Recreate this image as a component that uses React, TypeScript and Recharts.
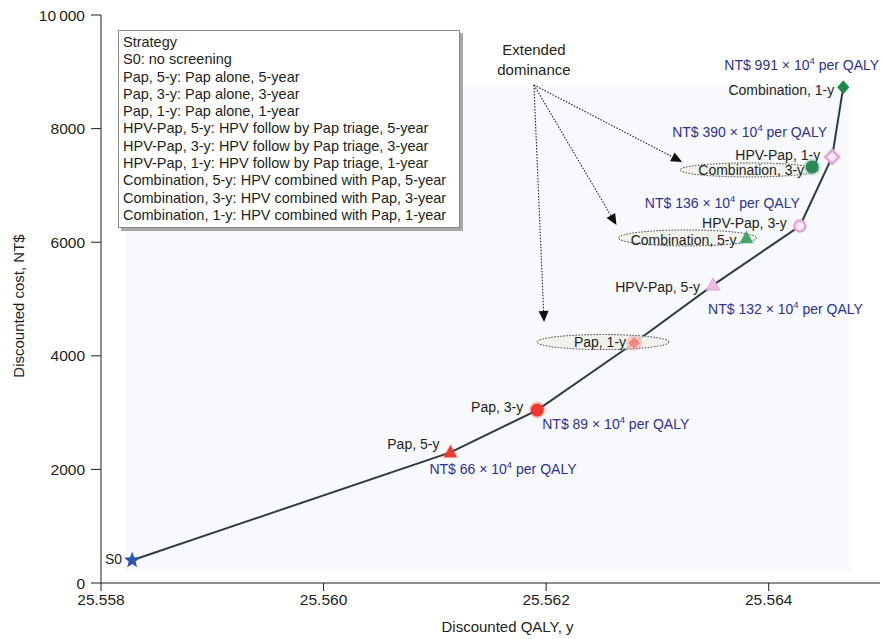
import {
  ComposedChart,
  Line,
  ReferenceArea,
  ReferenceDot,
  ReferenceLine,
  Scatter,
  XAxis,
  YAxis
} from "recharts";

// strategies, discounted QALY (y) and discounted cost (NT$)
const strategies = [
  "S0",
  "Pap, 5-y",
  "Pap, 3-y",
  "Pap, 1-y",
  "HPV-Pap, 5-y",
  "HPV-Pap, 3-y",
  "HPV-Pap, 1-y",
  "Combination, 5-y",
  "Combination, 3-y",
  "Combination, 1-y"
];
const qaly = [25.55828, 25.56114, 25.56192, 25.56279, 25.5635, 25.56428, 25.56457, 25.5638, 25.56439, 25.56467];
const cost = [400, 2300, 3045, 4225, 5245, 6285, 7500, 6075, 7325, 8730];
// ICER, NT$ x 10^4 per QALY (null = not reported)
const icer = [null, 66, 89, null, 132, 136, 390, null, null, 991];

const curveStrategies = [
  "S0",
  "Pap, 5-y",
  "Pap, 3-y",
  "Pap, 1-y",
  "HPV-Pap, 5-y",
  "HPV-Pap, 3-y",
  "HPV-Pap, 1-y",
  "Combination, 1-y"
];
const dominatedStrategies = ["Pap, 1-y", "Combination, 5-y", "Combination, 3-y"];

const xTicks = [25.558, 25.56, 25.562, 25.564];
const yTicks = [0, 2000, 4000, 6000, 8000, 10000];

const legendLines = [
  "Strategy",
  "S0: no screening",
  "Pap, 5-y: Pap alone, 5-year",
  "Pap, 3-y: Pap alone, 3-year",
  "Pap, 1-y: Pap alone, 1-year",
  "HPV-Pap, 5-y: HPV follow by Pap triage, 5-year",
  "HPV-Pap, 3-y: HPV follow by Pap triage, 3-year",
  "HPV-Pap, 1-y: HPV follow by Pap triage, 1-year",
  "Combination, 5-y: HPV combined with Pap, 5-year",
  "Combination, 3-y: HPV combined with Pap, 3-year",
  "Combination, 1-y: HPV combined with Pap, 1-year"
];
const noteLines = ["Extended", "dominance"];
const noteAnchor = { qaly: 25.56189, cost: 8768 };

const rows = strategies.map((name, i) => ({ name, qaly: qaly[i], cost: cost[i], icer: icer[i] }));
const curveRows = rows.filter((r) => curveStrategies.includes(r.name));
const dominatedRows = rows.filter((r) => dominatedStrategies.includes(r.name));

const FONT = '"Liberation Sans", Arial, Helvetica, sans-serif';
const INK = "#231f20";
const BLUE = "#2e3192";

const MARKS: Record<string, { kind: string; fill: string; stroke?: string }> = {
  S0: { kind: "star", fill: "#2c55a6" },
  "Pap, 5-y": { kind: "triangle", fill: "#ec3a2d" },
  "Pap, 3-y": { kind: "circle", fill: "#ec3a2d" },
  "Pap, 1-y": { kind: "blob", fill: "#f07a72" },
  "HPV-Pap, 5-y": { kind: "triangle", fill: "#ecbde3", stroke: "#e0a6d6" },
  "HPV-Pap, 3-y": { kind: "ring", fill: "#f8e6f3", stroke: "#e3a5d7" },
  "HPV-Pap, 1-y": { kind: "diamond-ring", fill: "#f8e6f3", stroke: "#e3a5d7" },
  "Combination, 5-y": { kind: "triangle", fill: "#45a468" },
  "Combination, 3-y": { kind: "circle", fill: "#2a8a55" },
  "Combination, 1-y": { kind: "diamond", fill: "#1d8746" }
};

// [dx to text end, dy to text middle]
const NAME_OFFSET: Record<string, [number, number]> = {
  S0: [-10, -1],
  "Pap, 5-y": [-11, -8],
  "Pap, 3-y": [-14, -3],
  "Pap, 1-y": [-8, -1],
  "HPV-Pap, 5-y": [-13, 2],
  "HPV-Pap, 3-y": [-13, -3],
  "HPV-Pap, 1-y": [-12, -2],
  "Combination, 5-y": [-10, 2],
  "Combination, 3-y": [-8, 3],
  "Combination, 1-y": [-9, 3]
};
// [dx to text start, dy to text middle]
const ICER_OFFSET: Record<string, [number, number]> = {
  "Pap, 5-y": [-21, 17],
  "Pap, 3-y": [5, 14],
  "HPV-Pap, 5-y": [-5, 24],
  "HPV-Pap, 3-y": [-155, -23],
  "HPV-Pap, 1-y": [-160, -25],
  "Combination, 1-y": [-119, -22]
};
const ELLIPSE: Record<string, { dx: number; dy: number; rx: number; ry: number; tip: [number, number] }> = {
  "Pap, 1-y": { dx: -31, dy: -1, rx: 66, ry: 7.5, tip: [-90, -21] },
  "Combination, 5-y": { dx: -59, dy: 0, rx: 69, ry: 8, tip: [-130, -13] },
  "Combination, 3-y": { dx: -63, dy: 3, rx: 69, ry: 7, tip: [-130, -5] }
};

function Mark({ cx, cy, name }: { cx: number; cy: number; name: string }) {
  const m = MARKS[name];
  if (!m) return null;
  if (m.kind === "star") {
    const pts: string[] = [];
    for (let k = 0; k < 10; k++) {
      const r = k % 2 === 0 ? 8.5 : 3.6;
      const a = -Math.PI / 2 + (k * Math.PI) / 5;
      pts.push(`${cx + r * Math.cos(a)},${cy + r * Math.sin(a)}`);
    }
    return <polygon points={pts.join(" ")} fill={m.fill} />;
  }
  if (m.kind === "triangle") {
    return (
      <g>
        <polygon points={`${cx},${cy - 9} ${cx - 8.5},${cy + 6} ${cx + 8.5},${cy + 6}`} fill={m.fill} opacity={0.25} />
        <polygon points={`${cx},${cy - 7} ${cx - 6.5},${cy + 5} ${cx + 6.5},${cy + 5}`} fill={m.fill} stroke={m.stroke} />
      </g>
    );
  }
  if (m.kind === "circle") {
    return (
      <g>
        <circle cx={cx} cy={cy} r={8.5} fill={m.fill} opacity={0.25} />
        <circle cx={cx} cy={cy} r={6.5} fill={m.fill} />
      </g>
    );
  }
  if (m.kind === "blob") {
    return (
      <g>
        <circle cx={cx} cy={cy} r={8} fill={m.fill} opacity={0.3} />
        <polygon points={`${cx},${cy - 6} ${cx + 6},${cy} ${cx},${cy + 6} ${cx - 6},${cy}`} fill={m.fill} opacity={0.8} />
      </g>
    );
  }
  if (m.kind === "ring") {
    return <circle cx={cx} cy={cy} r={5.5} fill={m.fill} stroke={m.stroke} strokeWidth={2.5} />;
  }
  if (m.kind === "diamond-ring") {
    return (
      <polygon
        points={`${cx},${cy - 7} ${cx + 7},${cy} ${cx},${cy + 7} ${cx - 7},${cy}`}
        fill={m.fill}
        stroke={m.stroke}
        strokeWidth={2.5}
      />
    );
  }
  return <polygon points={`${cx},${cy - 7} ${cx + 6},${cy} ${cx},${cy + 7} ${cx - 6},${cy}`} fill={m.fill} />;
}

function StrategyPoint(props: any) {
  const { cx, cy, payload } = props;
  const name = payload.name as string;
  const [nx, ny] = NAME_OFFSET[name] || [-10, 0];
  const io = ICER_OFFSET[name];
  return (
    <g>
      <text x={cx + nx} y={cy + ny} dy="0.35em" textAnchor="end" fontSize={14} fontFamily={FONT} fill={INK}>
        {name}
      </text>
      <Mark cx={cx} cy={cy} name={name} />
      {io && payload.icer != null && (
        <text x={cx + io[0]} y={cy + io[1]} dy="0.35em" fontSize={14} fontFamily={FONT} fill={BLUE}>
          {`NT$ ${payload.icer} \u00d7 10`}
          <tspan dy={-6} fontSize={9.5}>4</tspan>
          <tspan dy={6}>{" per QALY"}</tspan>
        </text>
      )}
    </g>
  );
}

function DominanceEllipse(props: any) {
  const { cx, cy, payload } = props;
  const e = ELLIPSE[payload.name];
  if (!e) return null;
  return (
    <ellipse
      cx={cx + e.dx}
      cy={cy + e.dy}
      rx={e.rx}
      ry={e.ry}
      fill="#f1f1ea"
      fillOpacity={0.85}
      stroke="#333"
      strokeWidth={1}
      strokeDasharray="1.5 1.5"
    />
  );
}

function makeArrow(tip: [number, number]) {
  return function Arrow(props: any) {
    const { x1, y1, x2, y2 } = props;
    const tx = x2 + tip[0];
    const ty = y2 + tip[1];
    const len = Math.hypot(tx - x1, ty - y1);
    const ux = (tx - x1) / len;
    const uy = (ty - y1) / len;
    const bx = tx - ux * 11;
    const by = ty - uy * 11;
    const px = -uy * 5;
    const py = ux * 5;
    return (
      <g>
        <line x1={x1} y1={y1} x2={bx} y2={by} stroke="#222" strokeWidth={1.1} strokeDasharray="1.5 1.5" />
        <polygon points={`${tx},${ty} ${bx + px},${by + py} ${bx - px},${by - py}`} fill="#111" />
      </g>
    );
  };
}

function NoteText(props: any) {
  const { cx, cy } = props;
  return (
    <text textAnchor="middle" fontSize={15} fontFamily={FONT} fill={INK}>
      {noteLines.map((line, i) => (
        <tspan key={line} x={cx} y={cy - 35 + i * 20} dy="0.35em">
          {line}
        </tspan>
      ))}
    </text>
  );
}

function YTitle(props: any) {
  const { viewBox } = props;
  const x = viewBox.x + 19;
  const y = viewBox.y + viewBox.height / 2 + 7;
  return (
    <text x={x} y={y} transform={`rotate(-90, ${x}, ${y})`} textAnchor="middle" dy="0.35em" fontSize={15} fontFamily={FONT} fill={INK}>
      Discounted cost, NT$
    </text>
  );
}

function XTitle(props: any) {
  const { viewBox } = props;
  return (
    <text x={viewBox.x + viewBox.width / 2 + 17} y={627} textAnchor="middle" dy="0.35em" fontSize={15} fontFamily={FONT} fill={INK}>
      Discounted QALY, y
    </text>
  );
}

export default function App() {
  const tick = { fontSize: 15.5, fontFamily: FONT, fill: INK };
  return (
    <div style={{ position: "absolute", left: 0, top: 0, width: 883, height: 639, background: "#fff" }}>
      <ComposedChart width={883} height={639} margin={{ top: 15, right: 3, bottom: 0, left: 0 }}>
        <XAxis
          type="number"
          dataKey="qaly"
          domain={[25.558, 25.565]}
          ticks={xTicks}
          allowDataOverflow
          tickFormatter={(v: number) => v.toFixed(3)}
          tick={tick}
          tickSize={8}
          tickMargin={3}
          height={56}
          axisLine={{ stroke: INK }}
          tickLine={{ stroke: INK }}
          label={<XTitle />}
        />
        <YAxis
          type="number"
          dataKey="cost"
          domain={[0, 10000]}
          ticks={yTicks}
          allowDataOverflow
          tickFormatter={(v: number) => (v === 10000 ? "10\u2009000" : String(v))}
          tick={tick}
          tickSize={10}
          tickMargin={6}
          width={101}
          axisLine={{ stroke: INK }}
          tickLine={{ stroke: INK }}
          label={<YTitle />}
        />
        <ReferenceArea x1={25.55822} x2={25.56475} y1={194} y2={8768} fill="#f8f9fd" fillOpacity={1} ifOverflow="visible" />
        <Scatter data={dominatedRows} shape={DominanceEllipse} isAnimationActive={false} />
        {dominatedRows.map((r) => (
          <ReferenceLine
            key={r.name}
            segment={[
              { x: noteAnchor.qaly, y: noteAnchor.cost },
              { x: r.qaly, y: r.cost }
            ]}
            ifOverflow="visible"
            shape={makeArrow(ELLIPSE[r.name].tip)}
          />
        ))}
        <ReferenceDot x={noteAnchor.qaly} y={noteAnchor.cost} ifOverflow="visible" shape={NoteText} />
        <Line
          data={curveRows}
          dataKey="cost"
          type="linear"
          stroke="#2e3d3f"
          strokeWidth={2}
          dot={false}
          activeDot={false}
          isAnimationActive={false}
        />
        <Scatter data={rows} shape={StrategyPoint} isAnimationActive={false} />
      </ComposedChart>
      <div
        style={{
          position: "absolute",
          left: 118,
          top: 30,
          width: 332,
          height: 190,
          padding: "3px 4px",
          border: "1px solid #8a8a8a",
          boxShadow: "3px 3px 0 #a8a8a8",
          background: "#fff",
          fontFamily: FONT,
          fontSize: 14.5,
          lineHeight: "17.3px",
          color: INK,
          whiteSpace: "nowrap"
        }}
      >
        {legendLines.map((line) => (
          <div key={line}>{line}</div>
        ))}
      </div>
    </div>
  );
}
